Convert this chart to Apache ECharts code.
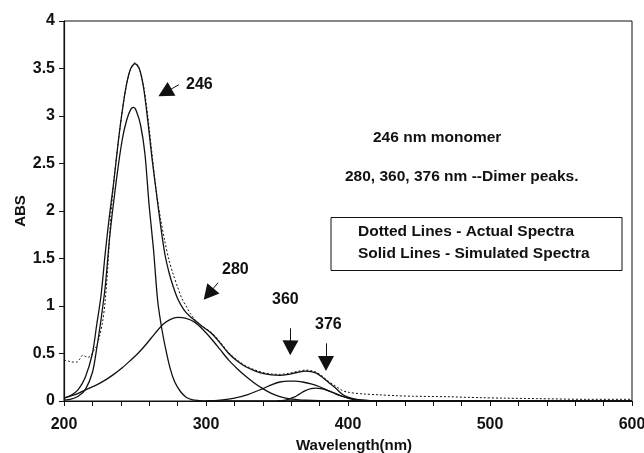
<!DOCTYPE html>
<html>
<head>
<meta charset="utf-8">
<script src="https://cdn.jsdelivr.net/npm/echarts@6/dist/echarts.min.js"></script>
<style>
  html, body { margin: 0; padding: 0; background: #fff; }
  #main { width: 644px; height: 453px; }
</style>
</head>
<body>
<div id="main"></div>
<script>
// readings: [wavelength nm, ABS]
var actualSpectra = [[200,0.43],[203,0.42],[206,0.41],[209,0.41],[211,0.44],[213,0.48],[215,0.47],[217,0.46],[219,0.48],[221,0.53],[223,0.58],[225,0.68],[227,0.82],[229,1.05],[231,1.45],[233,1.95],[235,2.3],[238,2.7],[241,3.05],[244,3.33],[247,3.5],[250,3.56],[253,3.5],[256,3.32],[259,3.0],[262,2.6],[265,2.2],[268,1.92],[271,1.68],[274,1.48],[277,1.33],[280,1.2],[283,1.08],[286,1.0],[289,0.92],[292,0.86],[297,0.79],[304,0.72],[310,0.62],[316,0.51],[322,0.43],[328,0.37],[334,0.33],[340,0.3],[346,0.285],[352,0.28],[358,0.29],[364,0.31],[370,0.325],[374,0.32],[378,0.3],[382,0.26],[386,0.21],[391,0.16],[396,0.11],[401,0.09],[410,0.075],[422,0.065],[435,0.055],[446,0.05],[470,0.045],[493,0.035],[510,0.03],[533,0.025],[568,0.018],[600,0.018]];

var simulatedSum = [[200,0.03],[205,0.06],[210,0.12],[215,0.25],[220,0.5],[223,0.8],[226,1.1],[229,1.55],[232,1.95],[235,2.3],[238,2.7],[241,3.05],[244,3.33],[247,3.5],[250,3.55],[253,3.5],[256,3.3],[259,2.95],[262,2.55],[265,2.2],[268,1.85],[271,1.55],[274,1.35],[277,1.2],[280,1.08],[284,0.97],[288,0.9],[292,0.85],[297,0.79],[304,0.71],[310,0.61],[316,0.5],[322,0.42],[328,0.36],[334,0.32],[340,0.29],[346,0.275],[352,0.27],[358,0.28],[364,0.3],[370,0.315],[374,0.31],[378,0.29],[382,0.25],[386,0.2],[391,0.14],[396,0.07],[400,0.04],[405,0.02],[410,0.01],[420,0.003],[450,0],[600,0]];

var peak246 = [[200,0.01],[205,0.02],[210,0.05],[215,0.12],[220,0.3],[223,0.55],[226,0.85],[229,1.2],[232,1.7],[235,2.1],[238,2.45],[241,2.75],[244,2.95],[247,3.07],[249,3.09],[251,3.05],[254,2.9],[257,2.6],[260,2.05],[263,1.6],[266,1.05],[269,0.75],[272,0.52],[275,0.33],[278,0.2],[282,0.1],[286,0.04],[290,0.015],[295,0.005],[300,0],[600,0]];

var peak280 = [[200,0.03],[210,0.08],[217,0.13],[223,0.17],[229,0.22],[235,0.28],[241,0.35],[247,0.43],[252,0.5],[258,0.6],[264,0.71],[270,0.81],[275,0.86],[280,0.88],[286,0.87],[292,0.83],[298,0.75],[304,0.65],[310,0.54],[316,0.43],[322,0.34],[328,0.26],[334,0.19],[340,0.13],[346,0.08],[352,0.045],[358,0.025],[364,0.015],[370,0.008],[380,0.003],[400,0],[600,0]];

var peak360 = [[300,0],[310,0.01],[320,0.03],[330,0.07],[340,0.13],[346,0.17],[352,0.2],[358,0.21],[363,0.21],[368,0.2],[374,0.18],[380,0.15],[386,0.11],[392,0.07],[398,0.04],[404,0.02],[410,0.008],[420,0],[600,0]];

var peak376 = [[350,0],[356,0.01],[362,0.04],[366,0.075],[370,0.11],[374,0.13],[377,0.135],[381,0.13],[386,0.11],[391,0.08],[396,0.05],[401,0.025],[406,0.01],[412,0],[600,0]];

// arrows: start of shaft, centre of head, and where the label sits (data units)
var arrows = [
  { text: '246', from: [281.0, 3.33], to: [271.1, 3.247], label: [285.9, 3.326] },
  { text: '280', from: [308.5, 1.245], to: [301.8, 1.126], label: [311.3, 1.38] },
  { text: '360', from: [359.6, 0.765], to: [359.4, 0.56], label: [346.5, 1.063] },
  { text: '376', from: [384.5, 0.607], to: [384.5, 0.395], label: [376.8, 0.80] }
];

var font = 'Liberation Sans, Arial, sans-serif';
var ink = '#111';

function lineSeries(name, data, dotted) {
  return {
    name: name,
    type: 'line',
    data: data,
    smooth: 0.3,
    symbol: 'none',
    silent: true,
    lineStyle: dotted ? { color: ink, width: 1, type: [2, 2] } : { color: ink, width: 1.3 }
  };
}

var series = [
  lineSeries('Actual', actualSpectra, true),
  lineSeries('Simulated', simulatedSum, false),
  lineSeries('246', peak246, false),
  lineSeries('280', peak280, false),
  lineSeries('360', peak360, false),
  lineSeries('376', peak376, false)
];

// arrows as markLines on an extra empty series
series.push({
  type: 'line',
  data: [],
  silent: true,
  markLine: {
    silent: true,
    animation: false,
    symbol: ['none', 'triangle'],
    symbolSize: [16, 15],
    label: { show: false },
    lineStyle: { color: ink, width: 1, type: 'solid' },
    itemStyle: { color: ink },
    data: arrows.map(function (a) {
      return [{ coord: a.from }, { coord: a.to }];
    })
  }
});

var chart = echarts.init(document.getElementById('main'));
chart.setOption({
  animation: false,
  backgroundColor: '#fff',
  grid: {
    left: 64, right: 12, top: 21, bottom: 52,
    outerBoundsMode: 'none',
    show: true, borderColor: ink, borderWidth: 1
  },
  xAxis: {
    type: 'value', min: 200, max: 600, interval: 100,
    name: 'Wavelength(nm)', nameLocation: 'middle', nameGap: 36,
    nameTextStyle: { fontFamily: font, fontWeight: 'bold', fontSize: 15, color: ink, padding: [0, 0, 0, 12] },
    axisLine: { lineStyle: { color: ink, width: 1.2 } },
    axisTick: { lineStyle: { color: ink }, length: 5 },
    minorTick: { show: true, splitNumber: 5, length: 5, lineStyle: { color: ink } },
    splitLine: { show: false },
    axisLabel: { fontFamily: font, fontWeight: 'bold', fontSize: 16, color: ink, margin: 16 }
  },
  yAxis: {
    type: 'value', min: 0, max: 4, interval: 0.5,
    name: 'ABS', nameLocation: 'middle', nameGap: 36, nameRotate: 90,
    nameMoveOverlap: false,
    nameTextStyle: { fontFamily: font, fontWeight: 'bold', fontSize: 15, color: ink },
    axisLine: { show: true, lineStyle: { color: ink, width: 1.2 } },
    axisTick: { show: true, lineStyle: { color: ink }, length: 5 },
    splitLine: { show: false },
    axisLabel: { fontFamily: font, fontWeight: 'bold', fontSize: 16, color: ink, margin: 9 }
  },
  series: series
});

// text annotations placed from data anchors
var g = [];
arrows.forEach(function (a) {
  var p = chart.convertToPixel({ gridIndex: 0 }, a.label);
  g.push({
    type: 'text', x: p[0], y: p[1], silent: true,
    style: { text: a.text, fill: ink, font: 'bold 16px ' + font, textAlign: 'left', textVerticalAlign: 'middle' }
  });
});
var notes = [
  { text: '246 nm monomer', x: 373, y: 138 },
  { text: '280, 360, 376 nm --Dimer peaks.', x: 345, y: 177 },
  { text: 'Dotted Lines - Actual Spectra', x: 358, y: 232 },
  { text: 'Solid Lines - Simulated Spectra', x: 358, y: 254 }
];
g.push({
  type: 'rect', silent: true, z: 10,
  shape: { x: 331, y: 217.5, width: 291, height: 53 },
  style: { fill: '#fff', stroke: ink, lineWidth: 1 }
});
notes.forEach(function (n) {
  g.push({
    type: 'text', x: n.x, y: n.y, silent: true, z: 11,
    style: { text: n.text, fill: ink, font: 'bold 15.5px ' + font, textVerticalAlign: 'middle' }
  });
});
chart.setOption({ graphic: g });
</script>
</body>
</html>
